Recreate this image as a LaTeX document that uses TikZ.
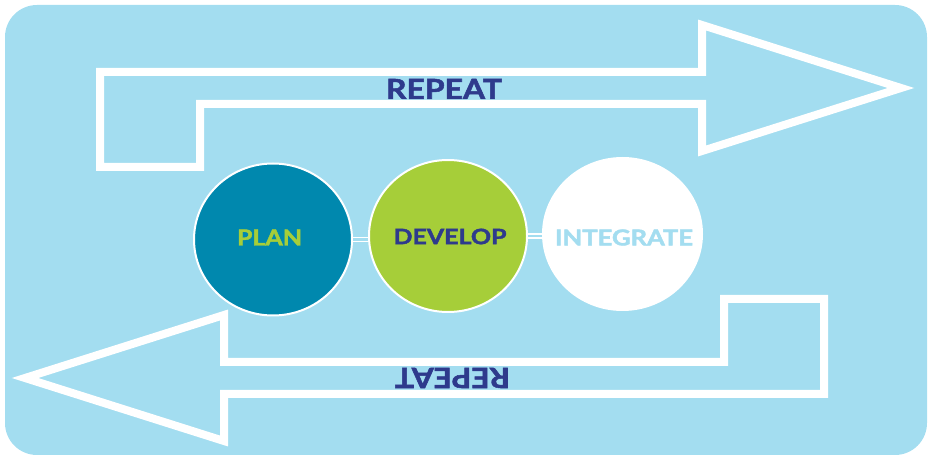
\documentclass[tikz,border=0pt]{standalone}
\usepackage{graphicx}
\usepackage{fontspec}
\setmainfont{Lato}[BoldFeatures={FakeBold=1.8}]
\usetikzlibrary{shapes.geometric}
\definecolor{bgblue}{HTML}{A3DDF0}
\definecolor{planblue}{HTML}{0088AE}
\definecolor{limegreen}{HTML}{A6CE39}
\definecolor{navyblue}{HTML}{2E3A8C}
\newcommand\fittext[3]{\resizebox{#1}{#2}{\bfseries #3}}
\tikzset{
  arrowline/.style={draw=white, line width=8bp, line join=miter},
  stage/.style={ellipse, minimum width=158bp, minimum height=152bp, inner sep=0pt},
  link/.style={draw=white, line width=1.4bp, double=bgblue, double distance=2.5bp},
  label/.style={inner sep=0pt, text=navyblue}
}
\begin{document}
\begin{tikzpicture}[x=1bp,y=-1bp]
\useasboundingbox (0,0) rectangle (932,455);
\fill[bgblue, rounded corners=32bp] (5,5) rectangle (927,455);
% top arrow
\draw[arrowline] (100,167) -- (100,72) -- (702,72) -- (702,25) -- (901,88)
  -- (702,151) -- (702,104) -- (200,104) -- (200,167) -- cycle;
% bottom arrow
\draw[arrowline] (724,299) -- (824,299) -- (824,394) -- (224,394) -- (224,441)
  -- (25,378) -- (224,315) -- (224,362) -- (724,362) -- cycle;
\node[label] (rtop) at (444,89) {\fittext{116bp}{20bp}{REPEAT}};
\node[label, rotate=180] (rbot) at (452.5,378) {\fittext{115bp}{20bp}{REPEAT}};
% stages
\node[stage, fill=planblue, draw=white, line width=2bp] (plan) at (273,239.5) {};
\node[stage, fill=limegreen, draw=white, line width=2bp] (develop) at (448,236) {};
\node[stage, fill=white, minimum width=161bp, minimum height=154bp] (integrate) at (622.5,234) {};
\draw[link] (plan.east) -- (develop.west |- plan.east);
\draw[link] (develop.east) -- (integrate.west |- develop.east);
\node[inner sep=0pt, text=limegreen] (tplan) at (269.5,237.5) {\fittext{65bp}{16bp}{PLAN}};
\node[inner sep=0pt, text=navyblue] (tdev) at (450,236.5) {\fittext{113bp}{15.5bp}{DEVELOP}};
\node[inner sep=0pt, text=bgblue] (tint) at (624,237.5) {\fittext{138bp}{16bp}{INTEGRATE}};
\end{tikzpicture}
\end{document}
